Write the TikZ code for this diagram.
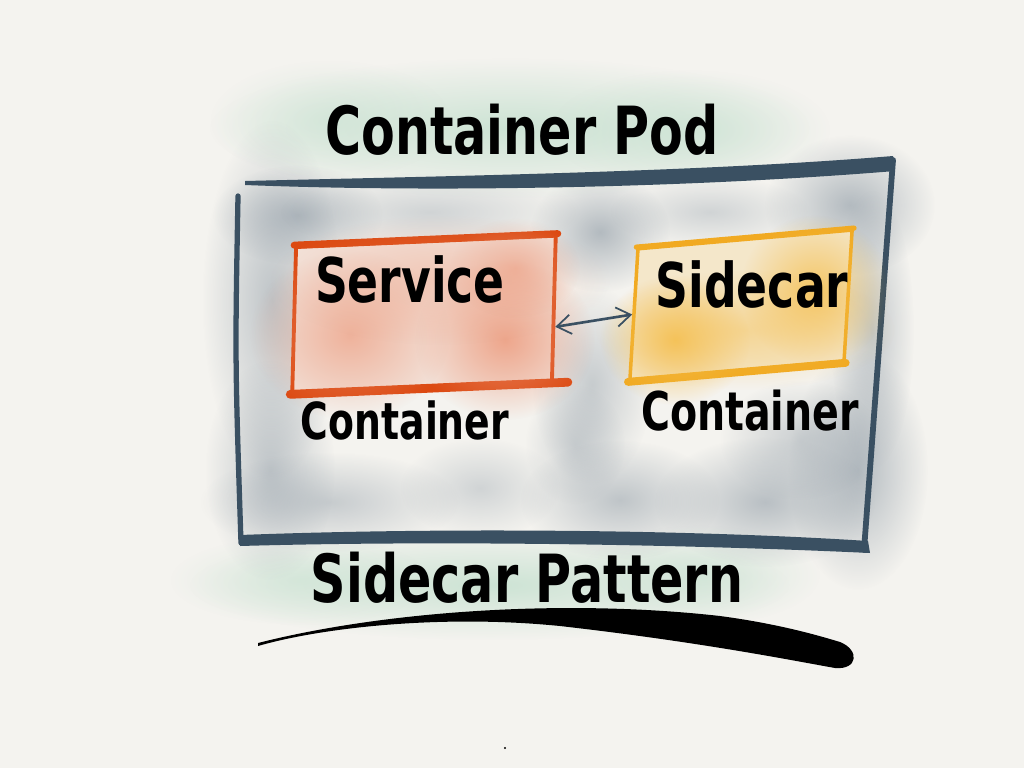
\documentclass[tikz,border=0pt]{standalone}
\usepackage{fontspec}
\setmainfont{DejaVu Sans}
\usepackage{tikz}
\usetikzlibrary{arrows.meta,fadings}

\definecolor{paper}{HTML}{F4F3EF}
\definecolor{slate}{HTML}{3A5062}
\definecolor{wash}{HTML}{7E8C99}
\definecolor{mint}{HTML}{BFDECB}
\definecolor{rust}{HTML}{DC4A12}
\definecolor{salmon}{HTML}{EC9272}
\definecolor{amber}{HTML}{F1AA22}
\definecolor{honey}{HTML}{F4BC45}

\tikzfading[name=softblob, inner color=transparent!0, outer color=transparent!100]

\tikzset{
	blob/.style={path fading=softblob, fit fading=true, fill opacity=#1},
	hand/.style={font=\bfseries\fontsize{#1}{#1}\selectfont, inner sep=0pt, yscale=1.35},
	svcbox/.style={draw=rust, line width=2.2pt, fill=salmon!18!paper, minimum width=5.2cm, minimum height=2.9cm, inner sep=0pt},
	carbox/.style={draw=amber, line width=2pt, fill=honey!22!paper, minimum width=4.3cm, minimum height=2.6cm, inner sep=0pt},
	link/.style={slate, line width=1.5pt, {Straight Barb[length=8pt, width=11pt, line width=1pt]}-{Straight Barb[length=8pt, width=11pt, line width=1pt]}}
}

\begin{document}
\begin{tikzpicture}[x=0.02cm, y=-0.02cm]
	\useasboundingbox (0,0) rectangle (1024,768);
	\fill[paper] (0,0) rectangle (1024,768);

	% green washes under the titles
	\foreach \x/\y/\a/\b/\o in {510/128/300/70/0.75, 330/120/120/60/0.45, 690/130/140/60/0.55,
		490/585/300/55/0.75, 300/580/130/45/0.45, 700/575/120/50/0.55}
		\fill[mint, blob=\o] (\x,\y) ellipse ({\a} and {\b});

	% grey washes inside the pod
	\foreach \x/\y/\a/\b/\o in {272/300/70/180/0.45, 270/470/65/110/0.42, 298/215/85/50/0.5,
		430/212/150/40/0.3, 600/232/70/60/0.55, 710/212/100/36/0.3,
		850/205/85/70/0.55, 872/330/42/140/0.42, 858/470/70/120/0.55,
		592/385/60/100/0.38, 575/445/50/60/0.3,
		330/502/130/50/0.38, 480/488/80/50/0.3, 620/500/100/60/0.45, 765/502/110/65/0.5, 800/440/80/60/0.35}
		\fill[wash, blob=\o] (\x,\y) ellipse ({\a} and {\b});

	% pod frame
	\fill[slate] (245,181) .. controls (450,176) and (700,172) .. (893,156)
		-- (895,171) .. controls (700,187) and (450,193) .. (245,185) -- cycle;
	\fill[slate] (240,535) .. controls (450,527) and (700,530) .. (868,541)
		-- (870,553) .. controls (700,545) and (450,540) .. (240,546) -- cycle;
	\draw[slate, line width=3pt, line cap=round] (238,196) .. controls (235,360) .. (241,543);
	\draw[slate, line width=3.3pt, line cap=round] (893,160) -- (864,550);

	% containers
	\node (service) at (424,314) [svcbox, rotate=2.5, xslant=0.07] {};
	\draw[rust, line width=4pt, line cap=round] (service.north west) -- (service.north east);
	\draw[rust, line width=5pt, line cap=round, shorten >=-8pt] (service.south west) -- (service.south east);
	\node (sidecar) at (741,305) [carbox, rotate=5, xslant=0.15] {};
	\draw[amber, line width=3pt, line cap=round] (sidecar.north west) -- (sidecar.north east);
	\draw[amber, line width=4.5pt, line cap=round] (sidecar.south west) -- (sidecar.south east);

	\foreach \x/\y/\a/\b/\o in {350/335/100/85/0.6, 505/340/90/80/0.75, 440/280/170/65/0.35, 515/268/65/50/0.5}
		\fill[salmon, blob=\o] (\x,\y) ellipse ({\a} and {\b});
	\foreach \x/\y/\a/\b/\o in {675/340/75/65/0.8, 815/290/75/75/0.75, 745/330/150/60/0.4}
		\fill[honey, blob=\o] (\x,\y) ellipse ({\a} and {\b});

	% labels
	\node (podtitle) at (522,130) [hand=28] {Container Pod};
	\node (svctext) at (410,280) [hand=26] {Service};
	\node (cartext) at (752,285) [hand=26] {Sidecar};
	\node (svclabel) at (405,420) [hand=21.5] {Container};
	\node (carlabel) at (750,411) [hand=22.5] {Container};
	\node (pattern) at (527,578) [hand=28] {Sidecar Pattern};

	\draw[link] (service.-8) -- (sidecar.west);

	% brush underline
	\fill (258,643) .. controls (380,612) and (560,598) .. (720,616)
		.. controls (780,624) and (820,636) .. (840,642)
		.. controls (860,650) and (858,670) .. (835,668)
		.. controls (790,660) and (700,642) .. (560,626)
		.. controls (440,614) and (320,628) .. (258,646) -- cycle;
	\fill (505,748) circle (1.2);
\end{tikzpicture}
\end{document}
